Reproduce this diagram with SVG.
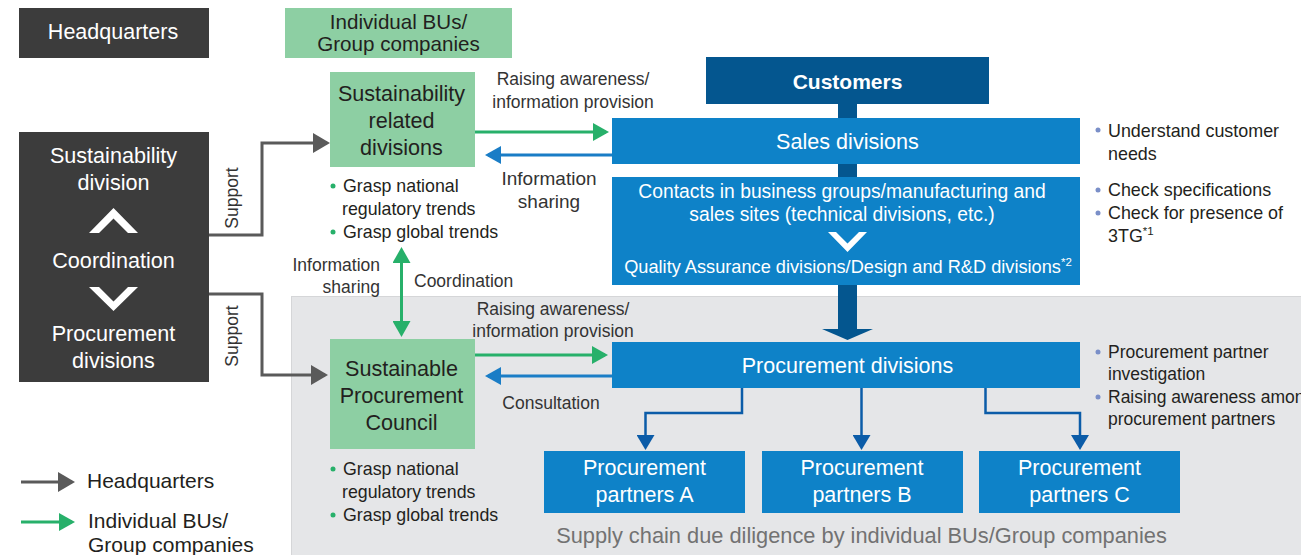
<svg xmlns="http://www.w3.org/2000/svg" width="1301" height="555" viewBox="0 0 1301 555">
<style>
.t{font-family:"Liberation Sans",Arial,Helvetica,sans-serif}
.c{text-anchor:middle}
.w{fill:#ffffff}
.k{fill:#231f20}
.hq{fill:#3c3c3c}
.bu{fill:#8dcfa3}
.bl{fill:#0e82c8}
.db{fill:#04568f}
.f21{font-size:21.6px}
.f17{font-size:17.5px}
.fb{font-size:17.8px}
.gr{stroke:#5a5a5a;stroke-width:3;fill:none}
.gn{stroke:#27b06a;stroke-width:3;fill:none}
.bln{stroke:#1a7dc6;stroke-width:3;fill:none}
.br{stroke:#0b5ca8;stroke-width:2.5;fill:none}
</style>
<defs>
<marker id="mGr" viewBox="0 0 17 20" refX="14" refY="10" markerWidth="17" markerHeight="20" markerUnits="userSpaceOnUse" orient="auto"><path d="M0,0L17,10L0,20Z" fill="#5a5a5a"/></marker>
<marker id="mGn" viewBox="0 0 16 18" refX="13" refY="9" markerWidth="16" markerHeight="18" markerUnits="userSpaceOnUse" orient="auto-start-reverse"><path d="M0,0L16,9L0,18Z" fill="#27b06a"/></marker>
<marker id="mBl" viewBox="0 0 16 18" refX="13" refY="9" markerWidth="16" markerHeight="18" markerUnits="userSpaceOnUse" orient="auto"><path d="M0,0L16,9L0,18Z" fill="#1a7dc6"/></marker>
<marker id="mBr" viewBox="0 0 15 18" refX="12" refY="9" markerWidth="15" markerHeight="18" markerUnits="userSpaceOnUse" orient="auto"><path d="M0,0L15,9L0,18Z" fill="#0b5ca8"/></marker>
</defs>
<rect width="1301" height="555" fill="#ffffff"/>
<g id="region">
<rect x="291.5" y="296.5" width="1012" height="262" fill="#e5e6e8" stroke="#d5d6d8" stroke-width="1"/>
<text class="t c" x="861.5" y="543" font-size="21.8" fill="#727272">Supply chain due diligence by individual BUs/Group companies</text>
</g>
<g id="headquarters-label">
<rect class="hq" x="19" y="8" width="190" height="50"/>
<text class="t c w" font-size="21.5" x="113" y="39">Headquarters</text>
</g>
<g id="bu-label">
<rect class="bu" x="285" y="8" width="227" height="50"/>
<text class="t c k" font-size="20.6" x="398.5" y="29">Individual BUs/</text>
<text class="t c k" font-size="20.6" x="398.5" y="51">Group companies</text>
</g>
<g id="connectors">
<path class="gr" d="M209,235H262V143H327" marker-end="url(#mGr)"/>
<path class="gr" d="M209,294H262V375H325" marker-end="url(#mGr)"/>
<path class="gn" d="M474,132H606" marker-end="url(#mGn)"/>
<path class="bln" d="M612,155H488" marker-end="url(#mBl)"/>
<path class="gn" d="M474,355H605" marker-end="url(#mGn)"/>
<path class="bln" d="M612,376H488" marker-end="url(#mBl)"/>
<path class="gn" d="M401.5,250V334" marker-start="url(#mGn)" marker-end="url(#mGn)"/>
<path class="br" d="M742,388V413H645.5V447" marker-end="url(#mBr)"/>
<path class="br" d="M861.5,388V447" marker-end="url(#mBr)"/>
<path class="br" d="M985.5,388V413H1080V447" marker-end="url(#mBr)"/>
<rect class="db" x="838" y="103" width="19" height="227"/>
<path class="db" d="M822,329H873L847.5,340Z"/>
<text class="t f17" fill="#333" transform="translate(238,198) rotate(-90)" text-anchor="middle">Support</text>
<text class="t f17" fill="#333" transform="translate(238,336) rotate(-90)" text-anchor="middle">Support</text>
<text class="t c f17" fill="#333" x="573" y="85">Raising awareness/</text>
<text class="t c f17" fill="#333" x="573" y="108">information provision</text>
<text class="t c" font-size="19" fill="#333" x="549" y="185">Information</text>
<text class="t c" font-size="19" fill="#333" x="549" y="208">sharing</text>
<text class="t f17" fill="#333" x="380" y="271" text-anchor="end">Information</text>
<text class="t f17" fill="#333" x="380" y="293" text-anchor="end">sharing</text>
<text class="t f17" fill="#333" x="414" y="287">Coordination</text>
<text class="t c f17" fill="#333" x="553" y="315">Raising awareness/</text>
<text class="t c f17" fill="#333" x="553" y="337">information provision</text>
<text class="t c f17" fill="#333" x="551" y="409">Consultation</text>
</g>
<g id="sustainability-division">
<rect class="hq" x="19" y="132" width="190" height="250"/>
<text class="t c w f21" x="113.5" y="163">Sustainability</text>
<text class="t c w f21" x="113.5" y="190">division</text>
<path class="w" d="M89,233L113.5,208L138,233H128L113.5,218.5L99,233Z"/>
<text class="t c w f21" x="113.5" y="268">Coordination</text>
<path class="w" d="M89,287H99L113.5,301.5L128,287H138L113.5,311Z"/>
<text class="t c w f21" x="113.5" y="341">Procurement</text>
<text class="t c w f21" x="113.5" y="368">divisions</text>
</g>
<g id="sustainability-related">
<rect class="bu" x="330" y="72" width="145" height="95"/>
<text class="t c k f21" x="401.5" y="101">Sustainability</text>
<text class="t c k f21" x="401.5" y="128">related</text>
<text class="t c k f21" x="401.5" y="155">divisions</text>
<circle cx="333" cy="186" r="2.5" fill="#27b06a"/>
<text class="t k fb" x="343" y="192">Grasp national</text>
<text class="t k fb" x="342" y="215">regulatory trends</text>
<circle cx="333" cy="232" r="2.5" fill="#27b06a"/>
<text class="t k fb" x="343" y="238">Grasp global trends</text>
</g>
<g id="council">
<rect class="bu" x="330" y="339" width="145" height="110"/>
<text class="t c k f21" x="401.5" y="376">Sustainable</text>
<text class="t c k f21" x="401.5" y="403">Procurement</text>
<text class="t c k f21" x="401.5" y="430">Council</text>
<circle cx="333" cy="469" r="2.5" fill="#27b06a"/>
<text class="t k fb" x="343" y="475">Grasp national</text>
<text class="t k fb" x="342" y="498">regulatory trends</text>
<circle cx="333" cy="515" r="2.5" fill="#27b06a"/>
<text class="t k fb" x="343" y="521">Grasp global trends</text>
</g>
<g id="customers">
<rect class="db" x="706" y="57" width="283" height="47"/>
<text class="t c w" font-size="21" font-weight="bold" x="847.5" y="89">Customers</text>
</g>
<g id="sales">
<rect class="bl" x="612" y="118" width="468" height="46"/>
<text class="t c w" font-size="21.6" x="847.5" y="149">Sales divisions</text>
<circle cx="1098" cy="130" r="2.5" fill="#7a8fc8"/>
<text class="t k" font-size="17.9" x="1108" y="137">Understand customer</text>
<text class="t k" font-size="17.9" x="1108" y="160">needs</text>
</g>
<g id="contacts">
<rect class="bl" x="612" y="177" width="468" height="108"/>
<text class="t c w" font-size="19.3" x="842" y="198">Contacts in business groups/manufacturing and</text>
<text class="t c w" font-size="19.3" x="842" y="221">sales sites (technical divisions, etc.)</text>
<path class="w" d="M828,232H836L847.5,243.5L859,232H867L847.5,252Z"/>
<text class="t c w" font-size="18.2" x="848" y="273">Quality Assurance divisions/Design and R&amp;D divisions<tspan font-size="11.5" dy="-7">*2</tspan></text>
<circle cx="1098" cy="190" r="2.5" fill="#7a8fc8"/>
<text class="t k" font-size="17.9" x="1108" y="196">Check specifications</text>
<circle cx="1098" cy="213" r="2.5" fill="#7a8fc8"/>
<text class="t k" font-size="17.9" x="1108" y="219">Check for presence of</text>
<text class="t k" font-size="17.9" x="1108" y="242">3TG<tspan font-size="11.5" dy="-7">*1</tspan></text>
</g>
<g id="procurement-divisions">
<rect class="bl" x="612" y="342" width="468" height="46"/>
<text class="t c w" font-size="21.5" x="847.5" y="373">Procurement divisions</text>
<circle cx="1098" cy="352" r="2.5" fill="#7a8fc8"/>
<text class="t k f17" x="1108" y="358">Procurement partner</text>
<text class="t k f17" x="1108" y="380">investigation</text>
<circle cx="1098" cy="397" r="2.5" fill="#7a8fc8"/>
<text class="t k f17" x="1108" y="403">Raising awareness among</text>
<text class="t k f17" x="1108" y="425">procurement partners</text>
</g>
<g id="partner-a">
<rect class="bl" x="544" y="451" width="201" height="62"/>
<text class="t c w" font-size="21.5" x="644.5" y="475">Procurement</text>
<text class="t c w" font-size="21.5" x="644.5" y="502">partners A</text>
</g>
<g id="partner-b">
<rect class="bl" x="762" y="451" width="201" height="62"/>
<text class="t c w" font-size="21.5" x="862" y="475">Procurement</text>
<text class="t c w" font-size="21.5" x="862" y="502">partners B</text>
</g>
<g id="partner-c">
<rect class="bl" x="979" y="451" width="201" height="62"/>
<text class="t c w" font-size="21.5" x="1079.5" y="475">Procurement</text>
<text class="t c w" font-size="21.5" x="1079.5" y="502">partners C</text>
</g>
<g id="legend">
<path class="gr" d="M21,482H72" marker-end="url(#mGr)"/>
<text class="t k" font-size="21" x="87" y="488">Headquarters</text>
<path class="gn" d="M21,522H72" marker-end="url(#mGn)"/>
<text class="t k" font-size="21" x="88" y="528">Individual BUs/</text>
<text class="t k" font-size="21" x="88" y="552">Group companies</text>
</g>
</svg>
